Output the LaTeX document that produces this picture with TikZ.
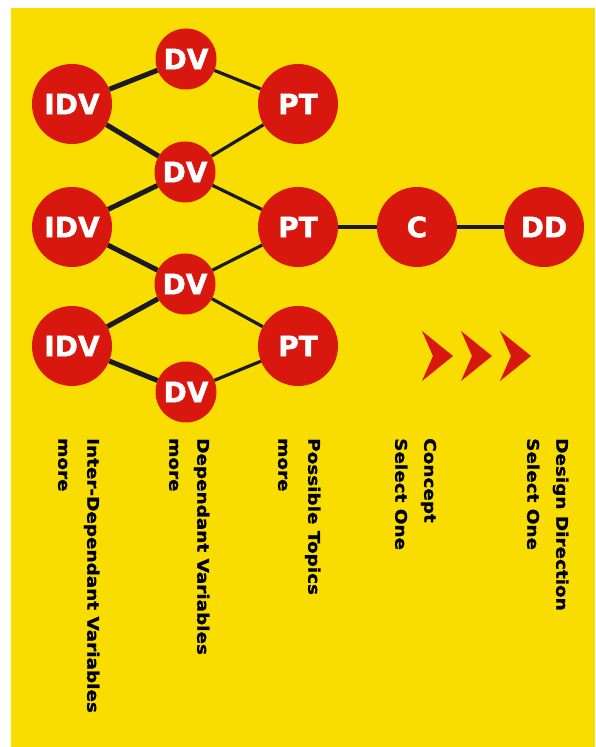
\documentclass[tikz,border=0pt]{standalone}
\usepackage{fontspec}
\usepackage{xcolor}
\usepackage{tikz}
\setmainfont{DejaVu Sans}
\newfontfamily\dotface{DejaVu Sans}[BoldFeatures={FakeBold=1.5}]
\newfontfamily\wideface{DejaVu Sans}[FakeStretch=1.15,BoldFeatures={FakeBold=1.2}]
\definecolor{DGYellow}{HTML}{F9DD00}
\definecolor{DGRed}{HTML}{D8170F}
\definecolor{DGInk}{HTML}{1B1A24}
\tikzset{
  bigdot/.style={circle,fill=DGRed,minimum size=80pt,inner sep=0pt,text=white,
    font=\dotface\bfseries\fontsize{28}{30}\selectfont},
  smalldot/.style={bigdot,minimum size=61pt},
  heavylink/.style={DGInk,line width=5pt},
  lightlink/.style={DGInk,line width=3.2pt},
  caption/.style={rotate=-90,anchor=mid west,inner sep=0pt,
    font=\wideface\bfseries\fontsize{16}{18}\selectfont}
}

\begin{document}
\begin{tikzpicture}[x=1pt,y=1pt]
\path[use as bounding box] (0,0) rectangle (595,747);
\fill[white] (0,0) rectangle (595,747);
\fill[DGYellow] (11,0) rectangle (595,739);
% circles
\node[bigdot] (idv1) at (72,643) {IDV};
\node[bigdot] (idv2) at (72,520) {IDV};
\node[bigdot] (idv3) at (72,401) {IDV};
\node[smalldot] (dv1) at (186,688) {DV};
\node[smalldot] (dv2) at (185,575) {DV};
\node[smalldot] (dv3) at (185,463) {DV};
\node[smalldot] (dv4) at (186,355) {DV};
\node[bigdot] (pt1) at (298,643) {PT};
\node[bigdot] (pt2) at (298,520) {PT};
\node[bigdot] (pt3) at (298,401) {PT};
\node[bigdot] (concept) at (417,520) {C};
\node[bigdot] (direction) at (544,520) {DD};
% links
\draw[heavylink] (idv1) -- (dv1);
\draw[heavylink] (idv1) -- (dv2);
\draw[heavylink] (idv2) -- (dv2);
\draw[heavylink] (idv2) -- (dv3);
\draw[heavylink] (idv3) -- (dv3);
\draw[heavylink] (idv3) -- (dv4);
\draw[lightlink] (dv1) -- (pt1);
\draw[lightlink] (dv2) -- (pt1);
\draw[lightlink] (dv2) -- (pt2);
\draw[lightlink] (dv3) -- (pt2);
\draw[lightlink] (dv3) -- (pt3);
\draw[lightlink] (dv4) -- (pt3);
\draw[lightlink] (pt2) -- (concept);
\draw[lightlink] (concept) -- (direction);
% chevrons
\fill[DGRed] (422,416) -- (453,391) -- (422,366) -- (433,391) -- cycle;
\fill[DGRed] (461,416) -- (492,391) -- (461,366) -- (472,391) -- cycle;
\fill[DGRed] (500,416) -- (531,391) -- (500,366) -- (511,391) -- cycle;
% captions
\node[caption] (capidv) at (90,309) {Inter-Dependant Variables};
\node[caption] (capidvmore) at (61,309) {more};
\node[caption] (capdv) at (200,309) {Dependant Variables};
\node[caption] (capdvmore) at (172,309) {more};
\node[caption] (cappt) at (311,309) {Possible Topics};
\node[caption] (capptmore) at (281,309) {more};
\node[caption] (capc) at (427,309) {Concept};
\node[caption] (capcsel) at (398,309) {Select One};
\node[caption] (capdd) at (559,309) {Design Direction};
\node[caption] (capddsel) at (530,309) {Select One};
\end{tikzpicture}
\end{document}
